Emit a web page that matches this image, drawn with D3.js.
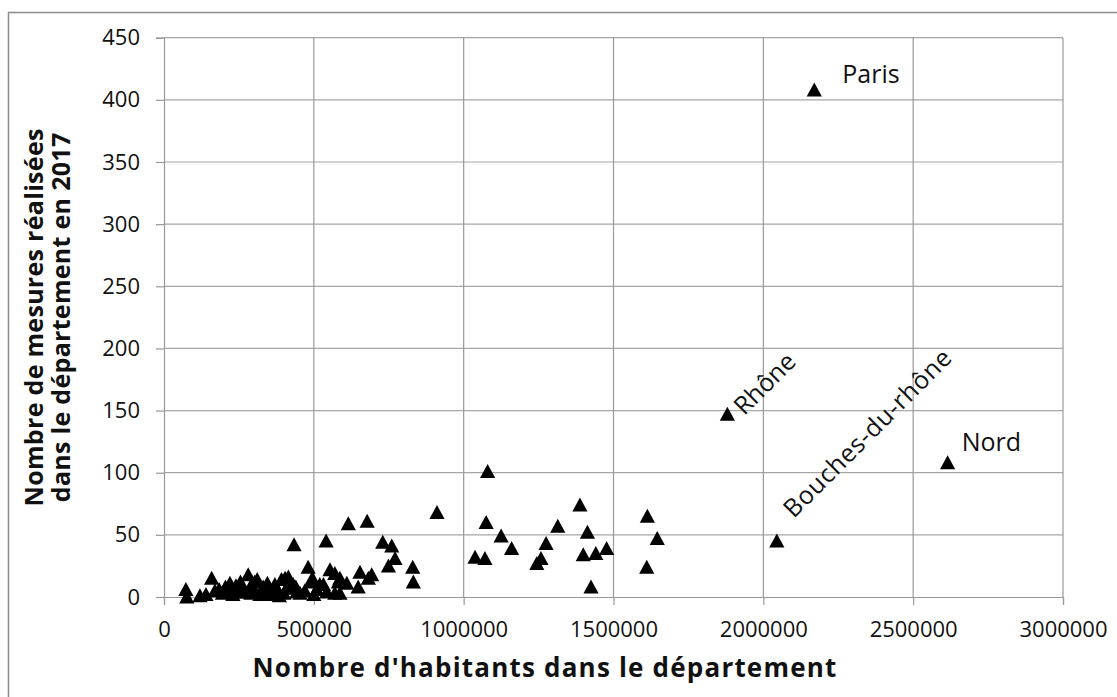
<!DOCTYPE html>
<html>
<head>
<meta charset="utf-8">
<script src="https://cdn.jsdelivr.net/npm/d3@7"></script>
<style>
  html, body { margin: 0; padding: 0; background: #fff; }
  svg { display: block; font-family: "Open Sans", "DejaVu Sans", sans-serif; }
</style>
</head>
<body>
<svg id="chart" width="1117" height="697"></svg>
<script>
// ---- data ----
const xTicks = [0, 500000, 1000000, 1500000, 2000000, 2500000, 3000000];
const yTicks = [0, 50, 100, 150, 200, 250, 300, 350, 400, 450];

const population = [
  2170000, 1880000, 2045000, 2615000,
  911000, 1080000, 1075000, 1125000, 1038000, 1071000, 1160000, 1314000, 1275000, 1258000,
  1244000, 1388000, 1413000, 1399000, 1441000, 1477000, 1425000, 1613000, 1646000, 1611000,
  615000, 678000, 730000, 760000, 771000, 749000, 830000, 832000, 654000, 693000,
  682000, 610000, 648000, 587000, 587000,
  434000, 541000, 481000, 495000, 554000, 570000, 582000, 532000, 570000, 543000,
  520000, 492000, 454000, 431000, 415000, 392000, 370000, 331000, 311000, 303000,
  281000, 268000, 240000, 220000, 184000, 159000, 120000, 73000, 76000, 420000,
  404000, 443000,
  140000, 170000, 195000, 205000, 230000, 250000, 260000, 290000, 300000, 320000,
  340000, 350000, 360000, 380000, 400000, 410000, 440000, 470000, 500000, 510000,
  255000, 215000, 290000, 345000, 385000
];
const mesures = [
  408, 147, 45, 108,
  68, 101, 60, 49, 32, 31, 39, 57, 43, 31,
  27, 74, 52, 34, 35, 39, 8, 65, 47, 24,
  59, 61, 44, 41, 31, 25, 24, 12, 20, 18,
  15, 11, 8, 15, 3,
  42, 45, 24, 15, 22, 19, 12, 10, 3, 4,
  10, 12, 3, 10, 16, 14, 10, 8, 14, 12,
  18, 4, 9, 11, 6, 15, 1, 6, 0, 12,
  15, 4,
  2, 5, 3, 8, 2, 4, 7, 3, 6, 2,
  4, 6, 2, 5, 3, 7, 8, 5, 2, 6,
  12, 4, 9, 11, 1
];

const labelNames = ["Paris", "Rhône", "Bouches-du-rhône", "Nord"];
const labelIndex = [0, 1, 2, 3];

const xTitle = "Nombre d'habitants dans le département";
const yTitleLines = ["Nombre de mesures réalisées", "dans le département en 2017"];

// ---- layout ----
const svg = d3.select("#chart");
const pL = 164, pR = 1063, pT = 37.7, pB = 597;

const x = d3.scaleLinear().domain([0, 3000000]).range([pL, pR]);
const y = d3.scaleLinear().domain([0, 450]).range([pB, pT]);

// outer border
svg.append("rect")
  .attr("x", 8.5).attr("y", 12.5)
  .attr("width", 1120).attr("height", 700)
  .attr("fill", "none").attr("stroke", "#8c8c8c").attr("stroke-width", 1.5);

// gridlines
const grid = svg.append("g");
grid.selectAll("line.h").data(yTicks.filter(d => d > 0)).join("line")
  .attr("class", "h")
  .attr("x1", pL).attr("x2", pR)
  .attr("y1", d => y(d)).attr("y2", d => y(d))
  .attr("stroke", "#a6a6a6").attr("stroke-width", 1.2);
grid.selectAll("line.v").data(xTicks.filter(d => d > 0)).join("line")
  .attr("class", "v")
  .attr("y1", pT).attr("y2", pB)
  .attr("x1", d => x(d)).attr("x2", d => x(d))
  .attr("stroke", "#999").attr("stroke-width", 1.2);

// axes
const xAxis = d3.axisBottom(x).tickValues(xTicks).tickFormat(d3.format("d")).tickSize(8).tickPadding(16);
const yAxis = d3.axisLeft(y).tickValues(yTicks).tickFormat(d3.format("d")).tickSize(8).tickPadding(16);

const gx = svg.append("g").attr("transform", `translate(0,${pB})`).call(xAxis);
const gy = svg.append("g").attr("transform", `translate(${pL},0)`).call(yAxis);
[gx, gy].forEach(g => {
  g.select(".domain").attr("stroke", "#999").attr("stroke-width", 1.2);
  g.selectAll(".tick line").attr("stroke", "#999").attr("stroke-width", 1.2);
  g.selectAll(".tick text").attr("fill", "#111")
    .style("font-family", '"Open Sans", sans-serif').style("font-size", "22px");
});
gx.selectAll(".tick text").attr("dy", "0.71em");

// markers
const tri = "M0,-7.5L7.6,6.5L-7.6,6.5Z";
svg.append("g").selectAll("path").data(population.map((p, i) => [p, mesures[i]])).join("path")
  .attr("d", tri)
  .attr("transform", d => `translate(${x(d[0])},${y(d[1])})`)
  .attr("fill", "#000");

// point labels
const lab = svg.append("g").style("font-size", "25px").attr("fill", "#111");
lab.append("text").text(labelNames[0])
  .attr("x", x(population[labelIndex[0]]) + 28).attr("y", y(mesures[labelIndex[0]]) - 7);
lab.append("text").text(labelNames[1])
  .attr("transform", `translate(${x(population[labelIndex[1]]) + 17},${y(mesures[labelIndex[1]]) + 2}) rotate(-45)`);
lab.append("text").text(labelNames[2])
  .style("letter-spacing", "0.6px")
  .attr("transform", `translate(${x(population[labelIndex[2]]) + 17},${y(mesures[labelIndex[2]]) - 22}) rotate(-45)`);
lab.append("text").text(labelNames[3])
  .attr("x", x(population[labelIndex[3]]) + 14).attr("y", y(mesures[labelIndex[3]]) - 12);

// axis titles
svg.append("text").text(xTitle)
  .attr("x", 545).attr("y", 677)
  .attr("text-anchor", "middle")
  .style("letter-spacing", "1.2px")
  .style("font-weight", "bold").style("font-size", "26px").attr("fill", "#111");

const yt = svg.append("text")
  .attr("transform", `translate(43,${(pT + pB) / 2}) rotate(-90)`)
  .attr("text-anchor", "middle")
  .style("letter-spacing", "0.3px")
  .style("font-weight", "bold").style("font-size", "25px").attr("fill", "#111");
yTitleLines.forEach((t, i) => {
  yt.append("tspan").text(t).attr("x", 0).attr("dy", i === 0 ? 0 : 27);
});
</script>
</body>
</html>
